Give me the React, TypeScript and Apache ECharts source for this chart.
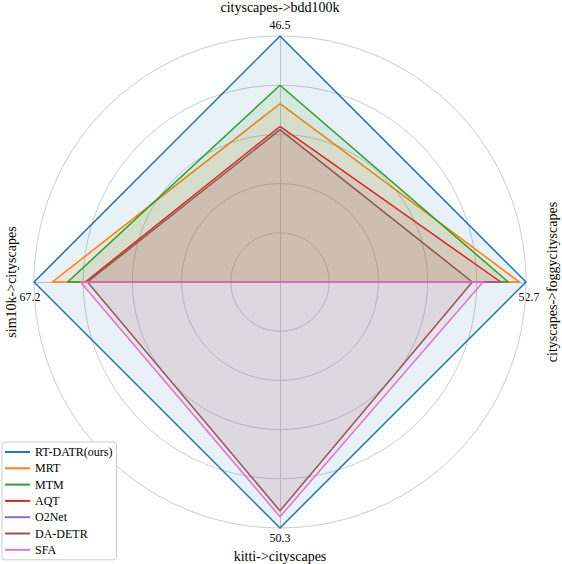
import React, { useEffect, useRef } from "react";
import * as echarts from "echarts";

// Indicator order (ECharts radar, counter-clockwise from top)
const indicatorNames = [
  "cityscapes->bdd100k",
  "sim10k->cityscapes",
  "kitti->cityscapes",
  "cityscapes->foggycityscapes",
];
const indicatorMax = [46.5, 67.2, 50.3, 52.7];
const maxLabels = ["46.5", "67.2", "50.3", "52.7"];

const methods = ["RT-DATR(ours)", "MRT", "MTM", "AQT", "O2Net", "DA-DETR", "SFA"];
const colors = ["#1f77b4", "#ff7f0e", "#2ca02c", "#d62728", "#9467bd", "#8c564b", "#e377c2"];

const rtdatr = [46.5, 67.2, 50.3, 52.7];
const mrt = [33.7, 62.2, 0, 51.3];
const mtm = [37.2, 58.0, 0, 48.9];
const aqt = [29.4, 53.2, 0, 47.3];
const o2net = [0, 0, 0, 47.2];
const dadetr = [28.8, 52.6, 46.8, 41.2];
const sfa = [0, 54.5, 48.0, 43.5];

const values = [rtdatr, mrt, mtm, aqt, o2net, dadetr, sfa];

const FONT = "Liberation Serif";

export default function App() {
  const ref = useRef<HTMLDivElement>(null);
  useEffect(() => {
    if (!ref.current) return;
    const chart = echarts.init(ref.current, null, { renderer: "svg" });
    const cx = 280;
    const cy = 282;
    const R = 246;
    const text = (t: string, x: number, y: number, size: number, rot = 0) => ({
      type: "text",
      x,
      y,
      rotation: rot,
      silent: true,
      style: {
        text: t,
        textAlign: "center",
        textVerticalAlign: "middle",
        fontFamily: FONT,
        fontSize: size,
        fill: "#000",
      },
    });
    chart.setOption({
      animation: false,
      backgroundColor: "#ffffff",
      color: colors,
      textStyle: { fontFamily: FONT },
      radar: {
        center: [cx, cy],
        radius: R,
        shape: "circle",
        splitNumber: 5,
        startAngle: 90,
        indicator: indicatorNames.map((n, i) => ({ name: n, min: 0, max: indicatorMax[i] })),
        axisName: { show: false },
        splitArea: { show: false },
        splitLine: { lineStyle: { color: "#cccccc", width: 1 } },
        axisLine: { lineStyle: { color: "#cccccc", width: 1 } },
        axisTick: { show: false },
        axisLabel: { show: false },
      },
      legend: {
        orient: "vertical",
        left: 2,
        top: 442,
        padding: [3, 4, 3, 3],
        itemWidth: 25,
        itemHeight: 2,
        itemGap: 2.3,
        icon: "rect",
        borderColor: "#cccccc",
        borderWidth: 1,
        borderRadius: 3,
        backgroundColor: "rgba(255,255,255,0.8)",
        data: methods,
        textStyle: { fontFamily: FONT, fontSize: 12, color: "#000", lineHeight: 14 },
      },
      series: methods.map((m, i) => ({
        name: m,
        type: "radar",
        symbol: "none",
        z: 2 + i,
        color: colors[i],
        itemStyle: { color: colors[i] },
        lineStyle: { color: colors[i], width: 1.5 },
        areaStyle: { color: colors[i], opacity: 0.1 },
        data: [
          {
            name: m,
            value: values[i],
          },
        ],
      })),
      graphic: [
        text(indicatorNames[0], cx, 7, 14),
        text(maxLabels[0], cx, 24.5, 12),
        text(indicatorNames[1], 11.5, cy, 14, Math.PI / 2),
        text(maxLabels[1], 30, 296.5, 12),
        text(maxLabels[2], cx, 537.5, 12),
        text(indicatorNames[2], cx, 556, 14),
        text(indicatorNames[3], 552, cy, 14, Math.PI / 2),
        text(maxLabels[3], 529, 296.5, 12),
      ],
    });
    return () => chart.dispose();
  }, []);
  return (
    <div
      ref={ref}
      style={{ position: "fixed", left: 0, top: 0, width: 562, height: 564, background: "#fff" }}
    />
  );
}
